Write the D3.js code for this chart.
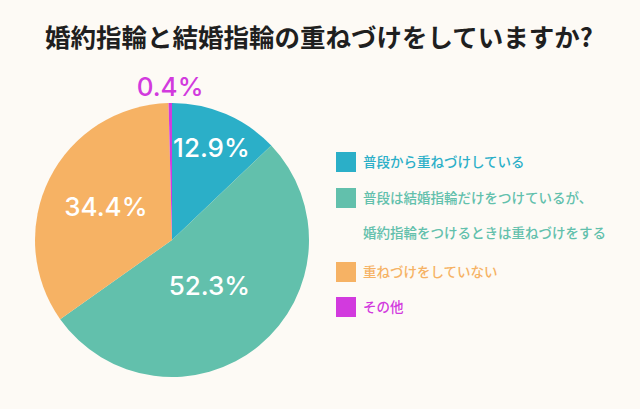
<!DOCTYPE html>
<head>
  <meta charset="utf-8">
</head>
<style>
body { margin: 0; background: #fdfaf5; }
.label { font-family: "Inter", "Noto Sans", sans-serif; }
.legend text { font-family: "Noto Sans CJK JP", sans-serif; }
</style>
<body>
<script src="https://cdnjs.cloudflare.com/ajax/libs/d3/7.8.5/d3.min.js"></script>
<script>
var width = 640,
    height = 409;

// data
var categories = ["普段から重ねづけしている", "普段は結婚指輪だけをつけているが、\n婚約指輪をつけるときは重ねづけをする", "重ねづけをしていない", "その他"];
var values = [12.9, 52.3, 34.4, 0.4];
var colours = ["#2bafc8", "#62c0ac", "#f6b264", "#d23ade"];
// how far out each percentage sits (share of the radius)
var labelR = [0.73, 0.43, 0.54, 1.12];

var svg = d3.select("body").append("svg")
  .attr("width", width)
  .attr("height", height);

svg.append("rect")
  .attr("width", width)
  .attr("height", height)
  .attr("fill", "#fdfaf5");

svg.append("text")
  .attr("x", 319)
  .attr("y", 47)
  .attr("text-anchor", "middle")
  .attr("font-family", "Noto Sans CJK JP, sans-serif")
  .attr("font-weight", "bold")
  .attr("font-size", 25.5)
  .attr("fill", "#1f1f1f")
  .text("婚約指輪と結婚指輪の重ねづけをしていますか?");

var cx = 172, cy = 240, r = 137;

var pie = d3.pie().sort(null).value(function(d) { return d; });
var arcs = pie(values);
var arc = d3.arc().innerRadius(0).outerRadius(r);

var pieGroup = svg.append("g")
  .attr("transform", "translate(" + cx + "," + cy + ")");

pieGroup.selectAll("path")
  .data(arcs)
  .enter().append("path")
  .attr("d", arc)
  .attr("fill", function(d, i) { return colours[i]; });

pieGroup.selectAll(".label")
  .data(arcs)
  .enter().append("text")
  .attr("class", "label")
  .attr("transform", function(d, i) {
    var a = (d.startAngle + d.endAngle) / 2;
    var rr = r * labelR[i];
    return "translate(" + (Math.sin(a) * rr) + "," + (-Math.cos(a) * rr) + ")";
  })
  .attr("dy", "0.36em")
  .attr("text-anchor", "middle")
  .attr("font-size", 26)
  .attr("font-weight", 500)
  .attr("fill", function(d, i) { return i == 3 ? colours[3] : "#ffffff"; })
  .text(function(d) { return d.data.toFixed(1) + "%"; });

// legend
var legendY = [152, 188, 262, 297];
var legend = svg.append("g").attr("class", "legend");

categories.forEach(function(c, i) {
  legend.append("rect")
    .attr("x", 336)
    .attr("y", legendY[i])
    .attr("width", 20)
    .attr("height", 20)
    .attr("fill", colours[i]);

  c.split("\n").forEach(function(line, j) {
    legend.append("text")
      .attr("x", 363)
      .attr("y", legendY[i] + 15 + j * 34.5)
      .attr("font-size", 13.5)
      .attr("font-weight", 500)
      .attr("fill", colours[i])
      .text(line);
  });
});
</script>
</body>
